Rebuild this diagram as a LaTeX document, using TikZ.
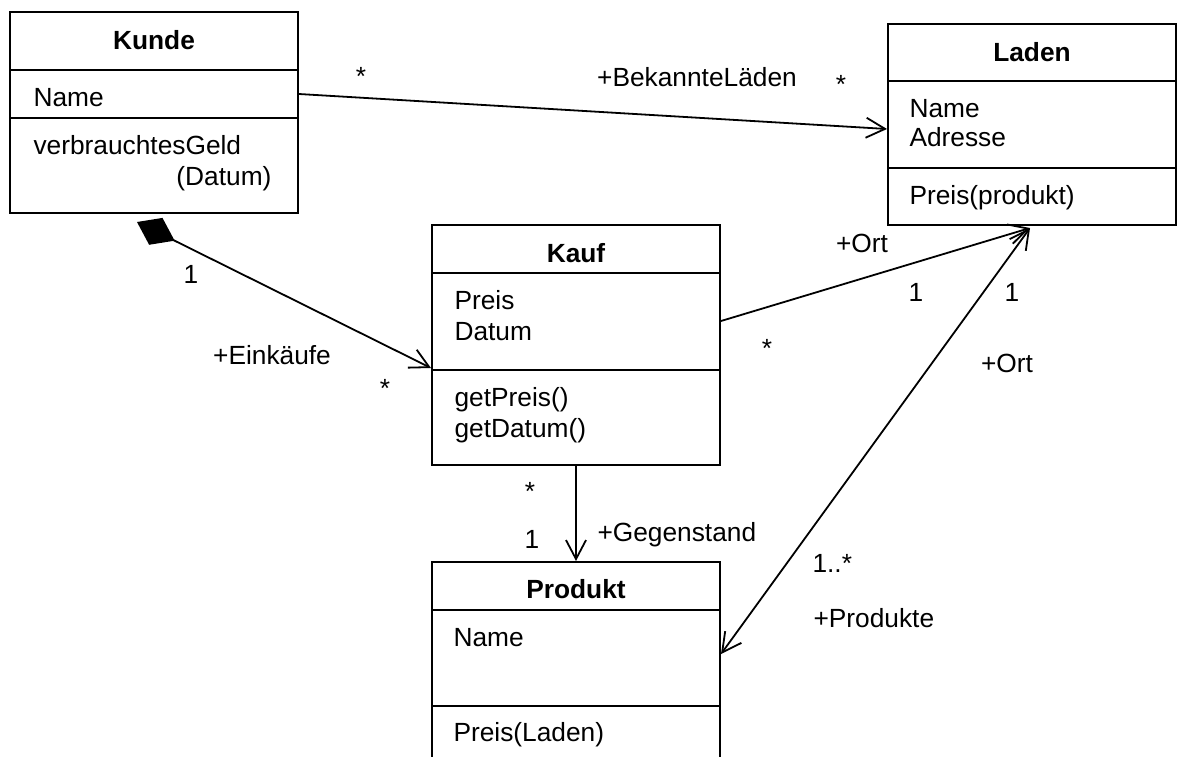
\documentclass[tikz,border=0pt]{standalone}
\usepackage{fontspec}
\setmainfont{Liberation Sans}
\usetikzlibrary{arrows.meta,calc}

\tikzset{
  klasse/.style={draw,line width=2pt,minimum width=288pt,inner sep=0pt},
  trenner/.style={line width=2pt},
  titel/.style={anchor=base,font=\fontsize{26.3}{31}\selectfont\bfseries},
  eintrag/.style={anchor=base west},
  verbindung/.style={line width=1.8pt},
}

\begin{document}
\begin{tikzpicture}[x=1pt,y=-1pt,font=\fontsize{26.3}{31}\selectfont,
  >={Straight Barb[length=19pt,width=20pt]}]
\clip (0,0) rectangle (1179,756);
% Klassen
\node[klasse,minimum height=201pt] (kunde) at (154,112.5) {};
\node[klasse,minimum height=201pt] (laden) at (1032,124.5) {};
\node[klasse,minimum height=240pt] (kauf) at (576,345) {};
\node[klasse,minimum height=228pt] (produkt) at (576,676) {};
\foreach \y in {70,118}
  \draw[trenner] (kunde.west |- 0,\y) -- (kunde.east |- 0,\y);
\foreach \y in {81,168}
  \draw[trenner] (laden.west |- 0,\y) -- (laden.east |- 0,\y);
\foreach \y in {273,370}
  \draw[trenner] (kauf.west |- 0,\y) -- (kauf.east |- 0,\y);
\foreach \y in {610,706}
  \draw[trenner] (produkt.west |- 0,\y) -- (produkt.east |- 0,\y);
% Kunde
\node[titel] (kundeT) at (154,49.5) {Kunde};
\node[eintrag] (kundeA) at (30,106.5) {Name};
\node[eintrag] (kundeM) at (30,154.5) {verbrauchtesGeld};
\node[anchor=base east] (kundeM2) at (275,185.5) {(Datum)};
% Laden
\node[titel] (ladenT) at (1032,61.5) {Laden};
\foreach \t/\y [count=\i] in {Name/117.5, Adresse/146.5, Preis(produkt)/204.5}
  \node[eintrag] (ladenE\i) at (906,\y) {\t};
% Kauf
\node[titel] (kaufT) at (576,262.5) {Kauf};
\foreach \t/\y [count=\i] in {Preis/309.5, Datum/340.5, getPreis()/406.5, getDatum()/437.5}
  \node[eintrag] (kaufE\i) at (451,\y) {\t};
% Produkt
\node[titel] (produktT) at (576,598.5) {Produkt};
\foreach \t/\y [count=\i] in {Name/646.5, Preis(Laden)/741.5}
  \node[eintrag] (produktE\i) at (450,\y) {\t};
% Verbindungen
\coordinate (ort) at ($(laden.south)+(-2,2)$);
\draw[verbindung,->] (kunde.east |- 0,94) -- (laden.west |- 0,129);
\draw[verbindung,{Diamond[length=42pt,width=30pt]}->] ($(kunde.south)+(-17,8)$) -- (kauf.west |- 0,368);
\draw[verbindung,->] (kauf.east |- 0,321) -- (ort);
\draw[verbindung,<->] (ort) -- (produkt.east |- 0,654);
\draw[verbindung,->] (kauf.south) -- (produkt.north);
% Rollen und Multiplizitaeten
\node[anchor=base] (m1) at (361,85) {*};
\node[anchor=base] (r1) at (697,86) {+BekannteLäden};
\node[anchor=base] (m2) at (841,93) {*};
\node[anchor=base] (m3) at (191,283) {1};
\node[anchor=base] (r2) at (272,364) {+Einkäufe};
\node[anchor=base] (m4) at (385,397) {*};
\node[anchor=base] (r3) at (862,252) {+Ort};
\node[anchor=base] (m5) at (916,301) {1};
\node[anchor=base] (m6) at (767,357) {*};
\node[anchor=base] (m7) at (1012,301) {1};
\node[anchor=base] (r4) at (1007,372) {+Ort};
\node[anchor=base west] (m8) at (809,572) {1..*};
\node[anchor=base west] (r5) at (810,627) {+Produkte};
\node[anchor=base] (m9) at (530,500) {*};
\node[anchor=base] (m10) at (532,548) {1};
\node[anchor=base west] (r6) at (594,541) {+Gegenstand};
\end{tikzpicture}
\end{document}
